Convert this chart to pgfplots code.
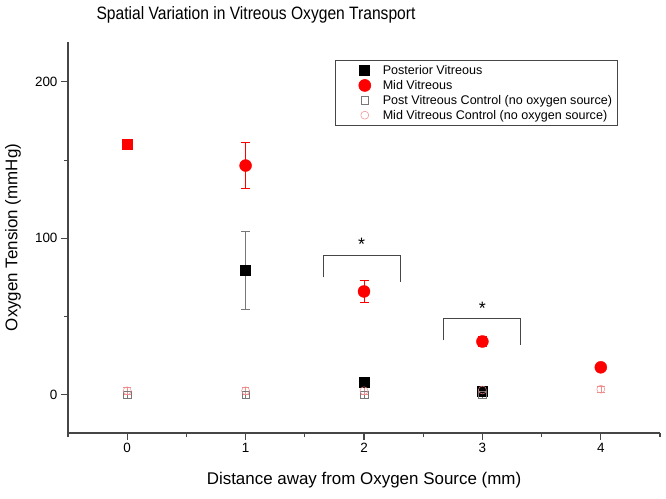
\documentclass[border=0pt]{standalone}
\usepackage{pgfplots}
\pgfplotsset{compat=1.18}
\usepackage{fontspec}
\setmainfont{Liberation Sans}
\definecolor{axgray}{RGB}{70,70,70}
\definecolor{ebgray}{RGB}{120,120,120}
\definecolor{ctrlred}{RGB}{240,140,140}
\pgfplotsset{myleg/.style={legend image code/.code={\path[draw=none, fill=none] (0bp,-3bp) rectangle (42bp,3bp); \draw[##1, only marks, mark repeat=2,mark phase=2] plot coordinates {(0bp,0bp) (26bp,0bp) (42bp,0bp)};}}}
\begin{document}
\begin{tikzpicture}
\begin{axis}[
  scale only axis, width=592bp, height=391bp,
  xmin=-0.5, xmax=4.5, ymin=-24.5, ymax=225.5,
  axis x line*=bottom, axis y line*=left,
  axis line style={axgray, line width=1.3pt},
  tick align=outside,
  major tick length=7bp, minor tick length=4bp,
  tick style={axgray, line width=1.1pt},
  xtick={0,1,2,3,4}, minor xtick={-0.5,0.5,1.5,2.5,3.5,4.5},
  ytick={0,100,200}, minor ytick={50,150},
  /pgf/number format/assume math mode=true,
  ticklabel style={font=\fontsize{13.5}{15}\selectfont, text=black},
  clip=false,
  legend style={at={(rel axis cs:0.451,0.954)}, anchor=north west,
    draw=axgray, line width=0.6pt, font=\fontsize{12.6}{14}\selectfont,
    row sep=0.3bp, inner xsep=3.5bp, inner ysep=3bp, cells={anchor=west}},
  legend cell align=left,
]
% Posterior Vitreous
\addplot[only marks, myleg, mark=square*, mark size=5bp, mark options={fill=black, draw=black},
  error bars/.cd, y dir=both, y explicit,
  error bar style={ebgray, line width=0.8pt},
  error mark options={ebgray, line width=0.8pt, mark size=4.5bp, rotate=90}]
  table[x=x, y=y, y error=e] {
x y e
0 160 0
1 79.5 25
2 8 0
3 2.5 1
};
\addlegendentry{Posterior Vitreous}
% Mid Vitreous
\addplot[only marks, myleg, mark=*, mark size=6bp, mark options={fill=red, draw=red},
  error bars/.cd, y dir=both, y explicit,
  error bar style={red, line width=0.8pt},
  error mark options={red, line width=0.8pt, mark size=4.5bp, rotate=90}]
  table[x=x, y=y, y error=e] {
x y e
1 146.5 14.5
2 66 7
3 34 3
4 17.5 2
};
\addlegendentry{Mid Vitreous}
% Post Vitreous Control
\addplot[only marks, myleg, mark=square, mark size=3.8bp, mark options={draw=ebgray, line width=0.5pt},
  error bars/.cd, y dir=both, y explicit,
  error bar style={ebgray, line width=0.5pt},
  error mark options={ebgray, line width=0.5pt, mark size=3.8bp, rotate=90}]
  table[x=x, y=y, y error=e] {
x y e
0 0 2
1 0 2
2 0 2
3 0 2
};
\addlegendentry{Post Vitreous Control (no oxygen source)}
% Mid Vitreous Control
\addplot[only marks, myleg, mark=o, mark size=4bp, mark options={draw=ctrlred, line width=0.5pt},
  error bars/.cd, y dir=both, y explicit,
  error bar style={ctrlred, line width=0.5pt},
  error mark options={ctrlred, line width=0.5pt, mark size=3.8bp, rotate=90}]
  table[x=x, y=y, y error=e] {
x y e
0 2.5 2
1 2.5 2
2 2.5 2
3 3 2
4 3.5 2
};
\addlegendentry{Mid Vitreous Control (no oxygen source)}
% overlapping point at x=0 shown as red square
\addplot[only marks, mark=square*, mark size=5bp, mark options={fill=red, draw=red}, forget plot]
  coordinates {(0,160)};
% significance brackets
\draw[axgray, line width=1pt] (axis cs:1.654,75) -- (axis cs:1.654,89) -- (axis cs:2.31,89) -- (axis cs:2.31,72);
\node[font=\fontsize{18}{19}\selectfont] at (axis cs:1.98,96) {*};
\draw[axgray, line width=1pt] (axis cs:2.67,34.7) -- (axis cs:2.67,48.4) -- (axis cs:3.32,48.4) -- (axis cs:3.32,31.5);
\node[font=\fontsize{18}{19}\selectfont] at (axis cs:3.0,55.5) {*};
\end{axis}
\node[font=\fontsize{17}{18}\selectfont] at (296bp,-47bp) {Distance away from Oxygen Source (mm)};
\node[font=\fontsize{17}{18}\selectfont, rotate=90] at (-55bp,195.5bp) {Oxygen Tension (mmHg)};
\node[font=\fontsize{18}{19}\selectfont, xscale=0.87] at (188bp,418bp) {Spatial Variation in Vitreous Oxygen Transport};
\pgfresetboundingbox
\path[use as bounding box] (-68bp,-66bp) rectangle (598bp,433bp);
\end{tikzpicture}
\end{document}
